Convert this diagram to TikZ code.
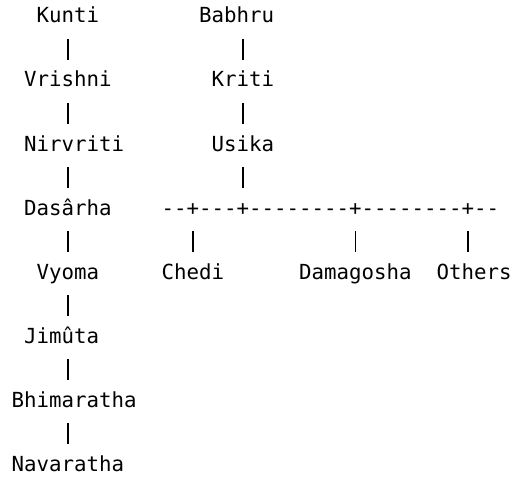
\documentclass[tikz,border=0pt]{standalone}
\usepackage{fontspec}
\setmonofont{DejaVu Sans Mono}
\usetikzlibrary{positioning, calc}

\tikzset{
  person/.style={anchor=base west, inner sep=0pt, font=\ttfamily\fontsize{20.76}{32}\selectfont, text height=15.8pt, text depth=4.9pt},
  bar/.style={line width=1.6pt, shorten <=11.2pt, shorten >=11.2pt}
}

\begin{document}
\begin{tikzpicture}[x=12.5pt, y=-32pt]
  \useasboundingbox (-11.5pt,23pt) rectangle (509.5pt,-453pt);

  % left line
  \node[person] (kunti)      at (2,0)  {Kunti};
  \node[person] (vrishni)    at (1,2)  {Vrishni};
  \node[person] (nirvriti)   at (1,4)  {Nirvriti};
  \node[person] (dasarha)    at (1,6)  {Dasârha};
  \node[person] (vyoma)      at (2,8)  {Vyoma};
  \node[person] (jimuta)     at (1,10) {Jimûta};
  \node[person] (bhimaratha) at (0,12) {Bhimaratha};
  \node[person] (navaratha)  at (0,14) {Navaratha};

  % right line
  \node[person] (babhru) at (15,0) {Babhru};
  \node[person] (kriti)  at (16,2) {Kriti};
  \node[person] (usika)  at (16,4) {Usika};
  \node[person] (bus)    at (12,6) {-{}-+-{}-{}-+-{}-{}-{}-{}-{}-{}-{}-+-{}-{}-{}-{}-{}-{}-{}-+-{}-};
  \node[person] (chedi)     at (12,8) {Chedi};
  \node[person] (damagosha) at (23,8) {Damagosha};
  \node[person] (others)    at (34,8) {Others};

  \coordinate (trunk) at (4.5,0);
  \coordinate (plus4) at (36.5,6);

  \foreach \a/\b in {kunti/vrishni, vrishni/nirvriti, nirvriti/dasarha, dasarha/vyoma,
                     vyoma/jimuta, jimuta/bhimaratha, bhimaratha/navaratha}
    \draw[bar] (\a.south -| trunk) -- (\b.north -| trunk);

  \draw[bar] (babhru.south -| usika) -- (kriti.north);
  \draw[bar] (kriti) -- (usika);
  \draw[bar] (usika.south) -- (usika.south |- bus.north);
  \draw[bar] (bus.south -| chedi) -- (chedi.north);
  \draw[bar] (bus.south -| damagosha) -- (damagosha.north);
  \draw[bar] (bus.south -| plus4) -- (others.north -| plus4);
\end{tikzpicture}
\end{document}
